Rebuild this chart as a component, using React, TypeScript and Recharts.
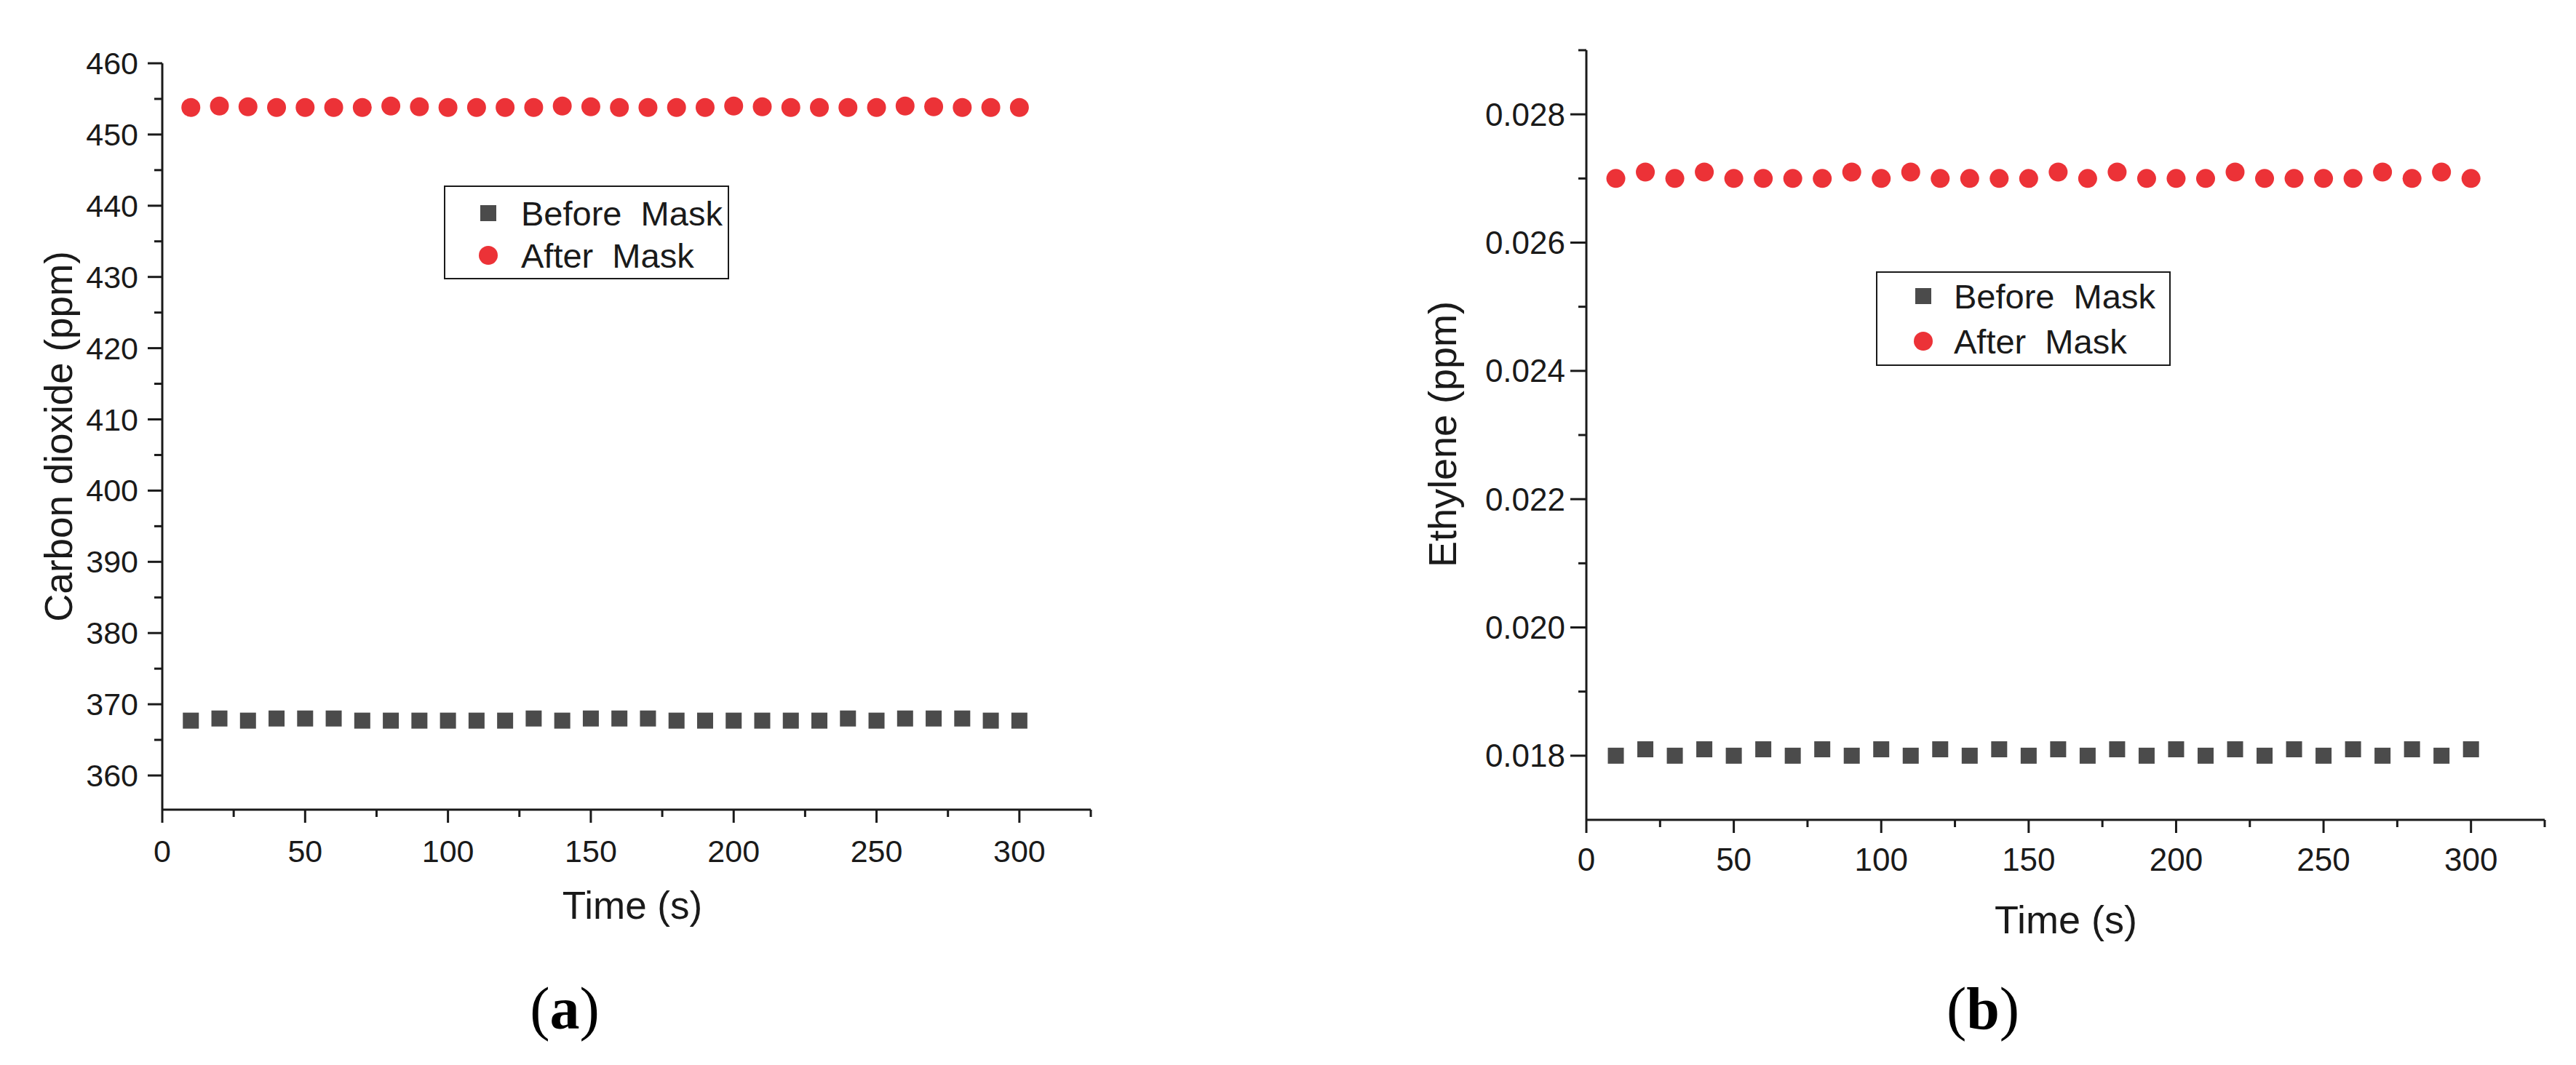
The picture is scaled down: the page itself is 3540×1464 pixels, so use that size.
import React from "react";
import { ScatterChart, Scatter, XAxis, YAxis, Legend } from "recharts";

// ---------- data ----------
const timeS = [10, 20, 30, 40, 50, 60, 70, 80, 90, 100, 110, 120, 130, 140, 150, 160, 170, 180, 190, 200, 210, 220, 230, 240, 250, 260, 270, 280, 290, 300];

const co2Before = [367.7, 368.0, 367.7, 368.0, 368.0, 368.0, 367.7, 367.7, 367.7, 367.7, 367.7, 367.7, 368.0, 367.7, 368.0, 368.0, 368.0, 367.7, 367.7, 367.7, 367.7, 367.7, 367.7, 368.0, 367.7, 368.0, 368.0, 368.0, 367.7, 367.7];
const co2After = [453.8, 454.0, 453.9, 453.8, 453.8, 453.8, 453.8, 454.0, 453.9, 453.8, 453.8, 453.8, 453.8, 454.0, 453.9, 453.8, 453.8, 453.8, 453.8, 454.0, 453.9, 453.8, 453.8, 453.8, 453.8, 454.0, 453.9, 453.8, 453.8, 453.8];

const ethBefore = [0.018, 0.0181, 0.018, 0.0181, 0.018, 0.0181, 0.018, 0.0181, 0.018, 0.0181, 0.018, 0.0181, 0.018, 0.0181, 0.018, 0.0181, 0.018, 0.0181, 0.018, 0.0181, 0.018, 0.0181, 0.018, 0.0181, 0.018, 0.0181, 0.018, 0.0181, 0.018, 0.0181];
const ethAfter = [0.027, 0.0271, 0.027, 0.0271, 0.027, 0.027, 0.027, 0.027, 0.0271, 0.027, 0.0271, 0.027, 0.027, 0.027, 0.027, 0.0271, 0.027, 0.0271, 0.027, 0.027, 0.027, 0.0271, 0.027, 0.027, 0.027, 0.027, 0.0271, 0.027, 0.0271, 0.027];

const xTicks = [0, 25, 50, 75, 100, 125, 150, 175, 200, 225, 250, 275, 300, 325];
const co2Ticks = [360, 365, 370, 375, 380, 385, 390, 395, 400, 405, 410, 415, 420, 425, 430, 435, 440, 445, 450, 455, 460];
const ethTicks = [0.018, 0.019, 0.02, 0.021, 0.022, 0.023, 0.024, 0.025, 0.026, 0.027, 0.028, 0.029];

const seriesNames = ["Before  Mask", "After  Mask"];
const xTitle = "Time (s)";
const co2Title = "Carbon dioxide (ppm)";
const ethTitle = "Ethylene (ppm)";

// ---------- styles ----------
const FONT = '"Liberation Sans", Arial, sans-serif';
const INK = "#1a1a1a";
const RED = "#ec3237";
const GRAY = "#4b4b4b";

const toPoints = (vals: number[]) => timeS.map((t, i) => ({ t, v: vals[i] }));

const SquareShape = (p: any) => (
  <rect x={p.cx - 11} y={p.cy - 11} width={22} height={22} fill={GRAY} />
);
const CircleShape = (p: any) => <circle cx={p.cx} cy={p.cy} r={13} fill={RED} />;

function makeYTick(ts: number, tm: number, fs: number, isMajor: (v: number) => boolean, fmt: (v: number) => string) {
  return (props: any) => {
    const { x, y, payload } = props;
    const ax = x + ts + tm;
    const major = isMajor(payload.value);
    const len = major ? ts : 11;
    return (
      <g>
        <line x1={ax} x2={ax - len} y1={y} y2={y} stroke={INK} strokeWidth={3} />
        {major && (
          <text x={x} y={y} textAnchor="end" dominantBaseline="central" fontSize={fs} fontFamily={FONT} fill={INK}>
            {fmt(payload.value)}
          </text>
        )}
      </g>
    );
  };
}

function makeXTick(ts: number, tm: number, fs: number) {
  return (props: any) => {
    const { x, y, payload } = props;
    const ay = y - ts - tm;
    const major = payload.value % 50 === 0;
    const len = major ? ts : 10;
    return (
      <g>
        <line x1={x} x2={x} y1={ay} y2={ay + len} stroke={INK} strokeWidth={3} />
        {major && (
          <text x={x} y={y} dy="0.71em" textAnchor="middle" fontSize={fs} fontFamily={FONT} fill={INK}>
            {String(payload.value)}
          </text>
        )}
      </g>
    );
  };
}

function LegendBox({ w, h, mx, tx, r1, r2 }: { w: number; h: number; mx: number; tx: number; r1: number; r2: number }) {
  return (
    <svg width={w} height={h} style={{ display: "block" }}>
      <rect x={1} y={1} width={w - 2} height={h - 2} fill="#fff" stroke={INK} strokeWidth={2} />
      <rect x={mx - 11} y={r1 - 11} width={22} height={22} fill={GRAY} />
      <circle cx={mx} cy={r2} r={13} fill={RED} />
      <text x={tx} y={r1} dominantBaseline="central" fontSize={47} fontFamily={FONT} fill={INK} style={{ whiteSpace: "pre" }}>
        {seriesNames[0]}
      </text>
      <text x={tx} y={r2} dominantBaseline="central" fontSize={47} fontFamily={FONT} fill={INK} style={{ whiteSpace: "pre" }}>
        {seriesNames[1]}
      </text>
    </svg>
  );
}

const axisLine = { stroke: INK, strokeWidth: 3 };

function Co2Chart() {
  return (
    <ScatterChart width={1560} height={1300} margin={{ top: 87, right: 61, bottom: 87, left: 0 }}>
      <XAxis
        type="number"
        dataKey="t"
        domain={[0, 325]}
        ticks={xTicks}
        interval={0}
        height={100}
        allowDataOverflow
        axisLine={axisLine}
        tickLine={false}
        tickSize={18}
        tickMargin={23}
        tick={makeXTick(18, 23, 43)}
        label={() => (
          <text x={869} y={1244} textAnchor="middle" dominantBaseline="central" fontSize={53} fontFamily={FONT} fill={INK}>
            {xTitle}
          </text>
        )}
      />
      <YAxis
        type="number"
        dataKey="v"
        domain={[355.2, 460]}
        ticks={co2Ticks}
        interval={0}
        width={223}
        allowDataOverflow
        axisLine={axisLine}
        tickLine={false}
        tickSize={20}
        tickMargin={13}
        tick={makeYTick(20, 13, 43, (v) => v % 10 === 0, (v) => String(v))}
        label={() => (
          <text x={80} y={600} transform="rotate(-90, 80, 600)" textAnchor="middle" dominantBaseline="central" fontSize={53} fontFamily={FONT} fill={INK}>
            {co2Title}
          </text>
        )}
      />
      <Legend
        layout="vertical"
        align="center"
        verticalAlign="middle"
        wrapperStyle={{ position: "absolute", left: 610, top: 255, width: 392, height: 129 }}
        content={() => <LegendBox w={392} h={129} mx={61} tx={106} r1={38} r2={96} />}
      />
      <Scatter name="Before Mask" data={toPoints(co2Before)} shape={SquareShape} isAnimationActive={false} />
      <Scatter name="After Mask" data={toPoints(co2After)} shape={CircleShape} isAnimationActive={false} />
    </ScatterChart>
  );
}

function EthChart() {
  return (
    <ScatterChart width={1640} height={1300} margin={{ top: 69, right: 43, bottom: 73, left: 0 }}>
      <XAxis
        type="number"
        dataKey="t"
        domain={[0, 325]}
        ticks={xTicks}
        interval={0}
        height={100}
        allowDataOverflow
        axisLine={axisLine}
        tickLine={false}
        tickSize={18}
        tickMargin={21}
        tick={makeXTick(18, 21, 44)}
        label={() => (
          <text x={939} y={1264} textAnchor="middle" dominantBaseline="central" fontSize={54} fontFamily={FONT} fill={INK}>
            {xTitle}
          </text>
        )}
      />
      <YAxis
        type="number"
        dataKey="v"
        domain={[0.017, 0.029]}
        ticks={ethTicks}
        interval={0}
        width={280}
        allowDataOverflow
        axisLine={axisLine}
        tickLine={false}
        tickSize={22}
        tickMargin={7}
        tick={makeYTick(22, 7, 44, (v) => Math.round(v * 1000) % 2 === 0, (v) => v.toFixed(3))}
        label={() => (
          <text x={82} y={597} transform="rotate(-90, 82, 597)" textAnchor="middle" dominantBaseline="central" fontSize={54} fontFamily={FONT} fill={INK}>
            {ethTitle}
          </text>
        )}
      />
      <Legend
        layout="vertical"
        align="center"
        verticalAlign="middle"
        wrapperStyle={{ position: "absolute", left: 678, top: 373, width: 405, height: 130 }}
        content={() => <LegendBox w={405} h={130} mx={65} tx={107} r1={34} r2={96} />}
      />
      <Scatter name="Before Mask" data={toPoints(ethBefore)} shape={SquareShape} isAnimationActive={false} />
      <Scatter name="After Mask" data={toPoints(ethAfter)} shape={CircleShape} isAnimationActive={false} />
    </ScatterChart>
  );
}

const panelLabel = (letter: string, cx: number) => (
  <div
    style={{
      position: "absolute",
      left: cx - 100,
      top: 1346,
      width: 200,
      height: 82,
      lineHeight: "82px",
      textAlign: "center",
      fontFamily: '"Liberation Serif", "Times New Roman", serif',
      fontSize: 82,
      color: "#000",
    }}
  >
    (<b>{letter}</b>)
  </div>
);

export default function App() {
  return (
    <div style={{ position: "absolute", left: 0, top: 0, width: 3540, height: 1464, background: "#fff", overflow: "hidden" }}>
      <div style={{ position: "absolute", left: 0, top: 0 }}>
        <Co2Chart />
      </div>
      <div style={{ position: "absolute", left: 1900, top: 0 }}>
        <EthChart />
      </div>
      {panelLabel("a", 776)}
      {panelLabel("b", 2725)}
    </div>
  );
}
